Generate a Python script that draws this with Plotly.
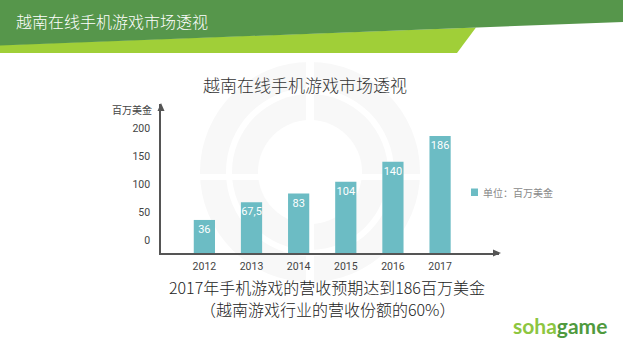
import plotly.graph_objects as go

# ---- data ----
years = ["2012", "2013", "2014", "2015", "2016", "2017"]
revenue = [36, 67.5, 83, 104, 140, 186]          # million USD
y_ticks = [0, 50, 100, 150, 200]
header_title = "越南在线手机游戏市场透视"
chart_title = "越南在线手机游戏市场透视"
y_unit = "百万美金"
legend_label = "单位：百万美金"
note_line1 = "2017年手机游戏的营收预期达到186百万美金"
note_line2 = "（越南游戏行业的营收份额的60%）"

# ---- layout helpers (figure pixels -> paper) ----
W, H = 623, 359
def px(x): return x / W
def py(y): return 1 - y / H

AXIS_FLOOR = -23   # value level where the drawn x-axis line sits (chart's axis starts below zero)
BAR = "#6cbcc4"
FONT = "Noto Sans CJK SC, Roboto, sans-serif"

labels = [f"{v:g}".replace(".", ",") for v in revenue]

fig = go.Figure()
fig.add_trace(go.Bar(
    x=years,
    y=[v - AXIS_FLOOR for v in revenue],
    base=AXIS_FLOOR,
    customdata=revenue,
    hovertemplate="%{x}: %{customdata}<extra></extra>",
    marker=dict(color=BAR, line=dict(width=0)),
    width=0.45,
    text=labels,
    textposition="inside",
    insidetextanchor="end",
    textangle=0,
    constraintext="none",
    textfont=dict(color="white", size=11, family="Roboto, sans-serif"),
    showlegend=False,
))

shapes = []
# watermark rings
cx, cy = 310, 172
WM = "#f8f8f8"
def circ(r, color):
    return dict(type="circle", xref="paper", yref="paper", layer="below",
                x0=px(cx - r), x1=px(cx + r), y0=py(cy + r), y1=py(cy - r),
                fillcolor=color, line=dict(width=0))
shapes += [circ(110, WM), circ(84, "#ffffff"), circ(78, WM), circ(52, "#ffffff")]
shapes += [
    dict(type="rect", xref="paper", yref="paper", layer="below",
         x0=px(cx - 4), x1=px(cx + 4), y0=py(cy + 112), y1=py(cy - 112),
         fillcolor="#ffffff", line=dict(width=0)),
    dict(type="rect", xref="paper", yref="paper", layer="below",
         x0=px(cx - 112), x1=px(cx + 112), y0=py(cy + 8), y1=py(cy + 2),
         fillcolor="#ffffff", line=dict(width=0)),
]
# header bands
shapes.append(dict(type="path", xref="paper", yref="paper", layer="above",
                   path=f"M {px(0)},{py(45)} L {px(476)},{py(27.5)} L {px(457)},{py(53)} L {px(0)},{py(53)} Z",
                   fillcolor="#a0cf38", line=dict(width=0)))
shapes.append(dict(type="path", xref="paper", yref="paper", layer="above",
                   path=f"M 0,1 L 1,1 L 1,{py(22)} L 0,{py(45.5)} Z",
                   fillcolor="#56964b", line=dict(width=0)))
# axis arrow heads
shapes.append(dict(type="path", xref="paper", yref="paper",
                   path=f"M {px(161)},{py(103)} L {px(157.5)},{py(111)} L {px(164.5)},{py(111)} Z",
                   fillcolor="#555555", line=dict(width=0)))
shapes.append(dict(type="path", xref="paper", yref="paper",
                   path=f"M {px(501)},{py(253)} L {px(493)},{py(249.5)} L {px(493)},{py(256.5)} Z",
                   fillcolor="#555555", line=dict(width=0)))
# legend swatch
shapes.append(dict(type="rect", xref="paper", yref="paper",
                   x0=px(471), x1=px(478), y0=py(196), y1=py(188.5),
                   fillcolor=BAR, line=dict(width=0)))

annotations = [
    dict(text=header_title, x=px(14), y=py(21), xref="paper", yref="paper",
         xanchor="left", yanchor="middle", showarrow=False,
         font=dict(size=16, color="white", family=FONT, weight=300)),
    dict(text=chart_title, x=px(305), y=py(85), xref="paper", yref="paper",
         xanchor="center", yanchor="middle", showarrow=False,
         font=dict(size=17, color="#333333", family=FONT, weight=300)),
    dict(text=y_unit, x=px(154), y=py(109), xref="paper", yref="paper",
         xanchor="right", yanchor="middle", showarrow=False,
         font=dict(size=10, color="#444444", family=FONT)),
    dict(text=legend_label, x=px(481), y=py(192), xref="paper", yref="paper",
         xanchor="left", yanchor="middle", showarrow=False,
         font=dict(size=10, color="#8a8a8a", family=FONT)),
    dict(text=note_line1, x=px(327), y=py(287), xref="paper", yref="paper",
         xanchor="center", yanchor="middle", showarrow=False,
         font=dict(size=16, color="#222222", family=FONT, weight=300)),
    dict(text=note_line2, x=px(327), y=py(309), xref="paper", yref="paper",
         xanchor="center", yanchor="middle", showarrow=False,
         font=dict(size=16, color="#222222", family=FONT, weight=300)),
    dict(text="<b><span style='color:#8dc63f'>soha</span><span style='color:#4f9a3e'>game</span></b>",
         x=px(560), y=py(325), xref="paper", yref="paper",
         xanchor="center", yanchor="middle", showarrow=False,
         font=dict(size=21, family="Lato, sans-serif")),
]

fig.update_layout(
    width=W, height=H,
    margin=dict(l=0, r=0, t=0, b=0),
    paper_bgcolor="white", plot_bgcolor="rgba(0,0,0,0)",
    xaxis=dict(domain=[px(161), px(499)], range=[-0.92, 6.25],
               showline=True, linecolor="#555555", linewidth=1.5,
               showgrid=False, zeroline=False, ticks="",
               ticklabelstandoff=3,
               tickfont=dict(size=10.5, color="#444444", family="Roboto, sans-serif")),
    yaxis=dict(domain=[py(253), py(104)], range=[AXIS_FLOOR, 243],
               tickvals=y_ticks, showline=True, linecolor="#555555", linewidth=1.5,
               showgrid=False, zeroline=False, ticks="",
               ticklabelstandoff=7,
               tickfont=dict(size=10.5, color="#444444", family="Roboto, sans-serif")),
    shapes=shapes,
    annotations=annotations,
    bargap=0.55,
)

fig.write_html(
    "out.html",
    config={"displayModeBar": False},
    post_script="document.body.style.margin='0';document.body.style.overflow='hidden';",
)
